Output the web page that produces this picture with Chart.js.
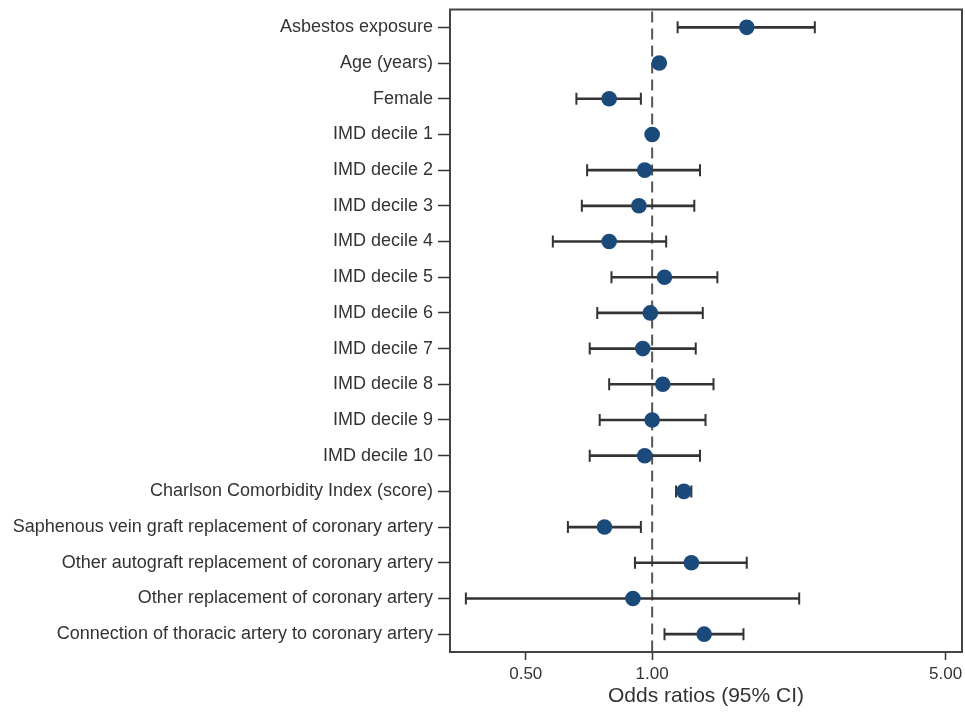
<!DOCTYPE html>
<html>
<head>
<meta charset="utf-8">
<script src="https://cdn.jsdelivr.net/npm/chart.js@4.4.1/dist/chart.umd.min.js"></script>
<style>
  html, body { margin:0; padding:0; background:#fff; }
  #wrap { width:965px; height:712px; }
</style>
</head>
<body>
<div id="wrap"><canvas id="forest"></canvas></div>
<script>
// forest plot: odds ratios with 95% CI, log x axis
const labels = [
  'Asbestos exposure',
  'Age (years)',
  'Female',
  'IMD decile 1',
  'IMD decile 2',
  'IMD decile 3',
  'IMD decile 4',
  'IMD decile 5',
  'IMD decile 6',
  'IMD decile 7',
  'IMD decile 8',
  'IMD decile 9',
  'IMD decile 10',
  'Charlson Comorbidity Index (score)',
  'Saphenous vein graft replacement of coronary artery',
  'Other autograft replacement of coronary artery',
  'Other replacement of coronary artery',
  'Connection of thoracic artery to coronary artery'
];
const oddsRatio = [1.68, 1.04, 0.79, 1.00, 0.96, 0.93, 0.79, 1.07, 0.99, 0.95, 1.06, 1.00, 0.96, 1.19, 0.77, 1.24, 0.90, 1.33];
const ciLow     = [1.15, 1.03, 0.66, null, 0.70, 0.68, 0.58, 0.80, 0.74, 0.71, 0.79, 0.75, 0.71, 1.14, 0.63, 0.91, 0.36, 1.07];
const ciHigh    = [2.44, 1.05, 0.94, null, 1.30, 1.26, 1.08, 1.43, 1.32, 1.27, 1.40, 1.34, 1.30, 1.24, 0.94, 1.68, 2.24, 1.65];
const xTicks = [0.5, 1, 5];
const refValue = 1;

const FONT = 'Arial, "Liberation Sans", sans-serif';
const ink = '#333';
const dotColor = '#1a4a7a';

// dashed reference line at OR = 1 plus the frame round the plot
const framePlugin = {
  id: 'frame',
  beforeDatasetsDraw(chart){
    const {ctx, chartArea:a, scales:{x}} = chart;
    const px = x.getPixelForValue(refValue);
    ctx.save();
    ctx.strokeStyle = '#555';
    ctx.lineWidth = 2;
    ctx.setLineDash([11, 6]);
    ctx.beginPath();
    ctx.moveTo(px, a.top + 2);
    ctx.lineTo(px, a.bottom);
    ctx.stroke();
    ctx.restore();
  },
  afterDraw(chart){
    const {ctx, chartArea:a} = chart;
    ctx.save();
    ctx.strokeStyle = '#444';
    ctx.lineWidth = 2;
    ctx.strokeRect(a.left, a.top, a.right - a.left, a.bottom - a.top);
    ctx.restore();
  }
};

const ciData = labels.map((l,i)=> ciLow[i] == null ? null : [ciLow[i], ciHigh[i]]);
const capData = [];
labels.forEach((l,i)=>{
  if(ciLow[i] == null) return;
  capData.push({x: ciLow[i], y: l});
  capData.push({x: ciHigh[i], y: l});
});
const pointData = labels.map((l,i)=>({x: oddsRatio[i], y: l}));

new Chart(document.getElementById('forest').getContext('2d'), {
  type: 'bar',
  data: {
    labels,
    datasets: [
      { type:'scatter', data: pointData, backgroundColor: dotColor, borderColor: dotColor,
        pointRadius: 7.8, borderWidth: 0, order: 0 },
      { type:'scatter', data: capData, pointStyle:'line', rotation: 90, pointRadius: 6,
        borderColor: ink, borderWidth: 2, order: 1 },
      { type:'bar', data: ciData, backgroundColor: ink, barThickness: 2, order: 2 }
    ]
  },
  options: {
    indexAxis: 'y',
    responsive: true,
    maintainAspectRatio: false,
    animation: false,
    events: [],
    layout: { autoPadding: false, padding: { top: 9.5, right: 3, left: 0, bottom: 0 } },
    plugins: { legend: { display:false }, tooltip: { enabled:false } },
    scales: {
      x: {
        type: 'logarithmic',
        position: 'bottom',
        bounds: 'data',
        min: 0.33,
        max: 5.47,
        afterBuildTicks: axis => { axis.ticks = xTicks.map(v=>({value:v})); },
        afterFit: axis => { axis.height = 60; axis.paddingLeft = 0; axis.paddingRight = 0; },
        ticks: { callback: v => Number(v).toFixed(2), color: ink, padding: 4,
                 font: { family: FONT, size: 17 }, autoSkip:false, maxRotation:0 },
        grid: { drawOnChartArea:false, drawTicks:true, tickLength: 8, color: ink, tickWidth: 1.5, offset:false },
        border: { display:true, color: ink, width: 2 },
        title: { display:true, text:'Odds ratios (95% CI)', color: ink,
                 font: { family: FONT, size: 21 }, padding: { top: 0, bottom: 3 } }
      },
      y: {
        type: 'category',
        position: 'left',
        offset: true,
        afterFit: axis => { axis.width = 450; axis.paddingTop = 0; axis.paddingBottom = 0; },
        ticks: { color: ink, padding: 5, font: { family: FONT, size: 18 }, autoSkip:false },
        grid: { drawOnChartArea:false, drawTicks:true, tickLength: 12, color: ink, tickWidth: 1.5, offset:false },
        border: { display:true, color: ink, width: 2 }
      }
    }
  },
  plugins: [framePlugin]
});
</script>
</body>
</html>
